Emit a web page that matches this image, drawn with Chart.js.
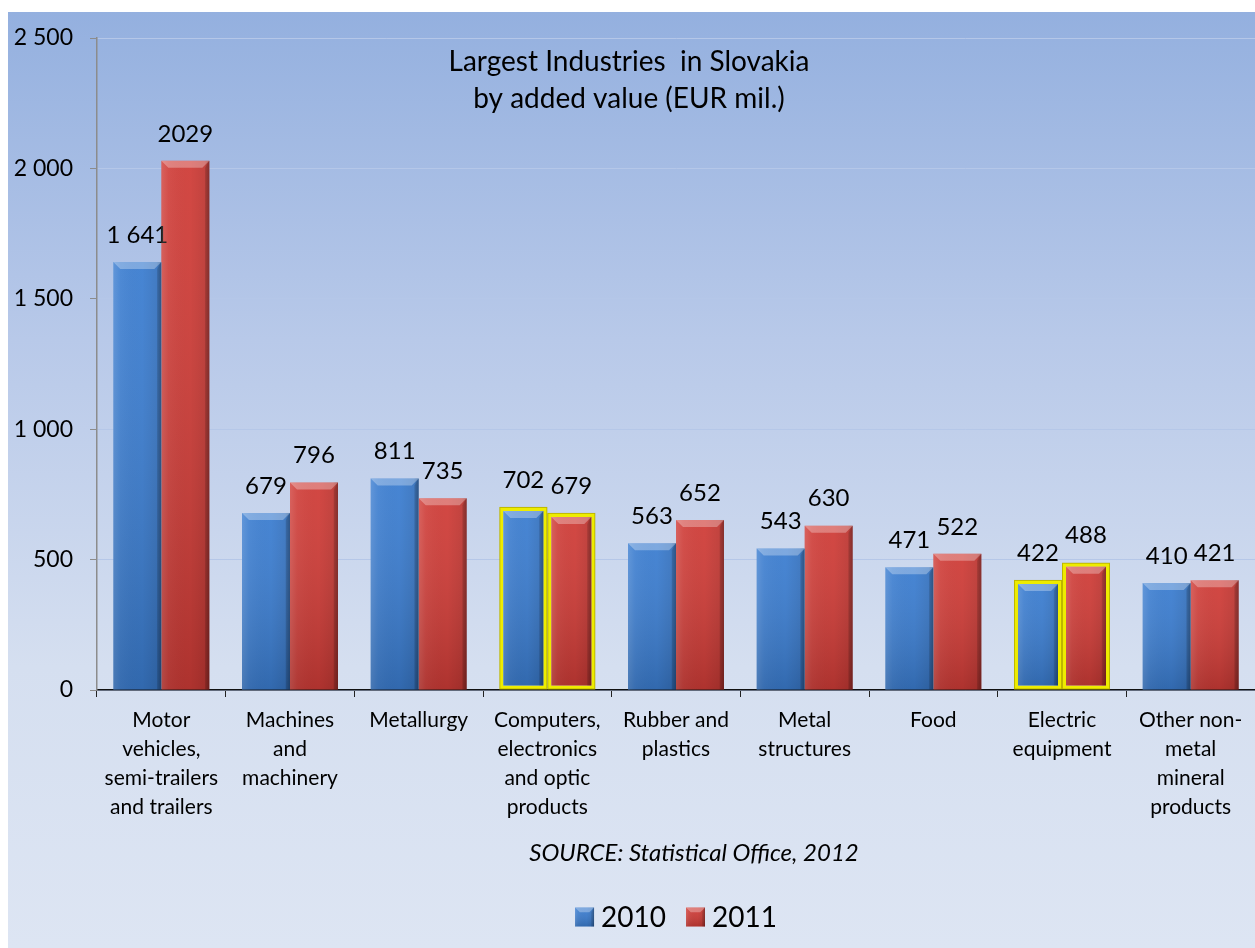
<!DOCTYPE html>
<html>
<head>
<meta charset="utf-8">
<script src="https://cdn.jsdelivr.net/npm/chart.js@4.4.0/dist/chart.umd.min.js"></script>
<style>
  body { margin: 0; background: #fff; }
  #wrap { width: 1255px; height: 948px; }
</style>
</head>
<body>
<div id="wrap"><canvas id="chart"></canvas></div>
<script>
const categories = [
  ['Motor', 'vehicles,', 'semi-trailers', 'and trailers'],
  ['Machines', 'and', 'machinery'],
  ['Metallurgy'],
  ['Computers,', 'electronics', 'and optic', 'products'],
  ['Rubber and', 'plastics'],
  ['Metal', 'structures'],
  ['Food'],
  ['Electric', 'equipment'],
  ['Other non-', 'metal', 'mineral', 'products']
];
const values2010 = [1641, 679, 811, 702, 563, 543, 471, 422, 410];
const values2011 = [2029, 796, 735, 679, 652, 630, 522, 488, 421];
const seriesNames = ['2010', '2011'];
const highlighted = [3, 7];   // categories framed in yellow
const titleLines = ['Largest Industries  in Slovakia', 'by added value (EUR mil.)'];
const sourceText = 'SOURCE: Statistical Office, 2012';

const FONT = 'Lato, "Open Sans", sans-serif';
const BLUE = '#3b7dd0';
const RED = '#cf3c37';
const YELLOW = '#eeec00';
const FRAME_W = 4;

// "1641" -> "1 641"
function spaced(v) {
  return String(v).replace(/\B(?=(\d{3})+(?!\d))/g, ' ');
}

function frame(list) {
  return categories.map((c, i) => highlighted.includes(i) ? list[0] : list[1]);
}

// bevelled "3D" look drawn over a bar rectangle
function bevel(ctx, l, t, r, b) {
  const w = r - l, h = b - t;
  if (w <= 0 || h <= 0) return;
  const bv = Math.min(7, w / 4, h / 2);
  ctx.save();
  let g = ctx.createLinearGradient(l, 0, r, 0);
  g.addColorStop(0, 'rgba(255,255,255,0.14)');
  g.addColorStop(0.15, 'rgba(255,255,255,0.04)');
  g.addColorStop(0.6, 'rgba(0,0,0,0)');
  g.addColorStop(0.9, 'rgba(0,0,0,0.08)');
  g.addColorStop(1, 'rgba(0,0,0,0.3)');
  ctx.fillStyle = g;
  ctx.fillRect(l, t, w, h);
  g = ctx.createLinearGradient(0, t, 0, b);
  g.addColorStop(0, 'rgba(255,255,255,0.06)');
  g.addColorStop(1, 'rgba(0,0,0,0.16)');
  ctx.fillStyle = g;
  ctx.fillRect(l, t, w, h);
  // top face
  ctx.beginPath();
  ctx.moveTo(l, t); ctx.lineTo(r, t); ctx.lineTo(r - bv, t + bv); ctx.lineTo(l + bv, t + bv);
  ctx.closePath();
  ctx.fillStyle = 'rgba(255,255,255,0.3)';
  ctx.fill();
  // right edge
  ctx.beginPath();
  ctx.moveTo(r, t); ctx.lineTo(r, b); ctx.lineTo(r - bv * 0.6, b); ctx.lineTo(r - bv * 0.6, t + bv);
  ctx.closePath();
  ctx.fillStyle = 'rgba(0,0,0,0.12)';
  ctx.fill();
  ctx.restore();
}

const decorPlugin = {
  id: 'decor',
  beforeDraw(chart) {
    const { ctx, width, height } = chart;
    ctx.save();
    ctx.fillStyle = '#ffffff';
    ctx.fillRect(0, 0, width, height);
    const g = ctx.createLinearGradient(0, 12, 0, height);
    g.addColorStop(0, '#94b0df');
    g.addColorStop(0.35, '#b8c9e9');
    g.addColorStop(0.7, '#d5dff0');
    g.addColorStop(1, '#dde5f3');
    ctx.fillStyle = g;
    ctx.fillRect(8, 12, width - 8, height - 12);
    ctx.restore();
  },
  afterDatasetsDraw(chart) {
    const ctx = chart.ctx;
    chart.data.datasets.forEach((ds, di) => {
      const meta = chart.getDatasetMeta(di);
      meta.data.forEach((el, i) => {
        const p = el.getProps(['x', 'y', 'base', 'width'], true);
        const l = p.x - p.width / 2, r = p.x + p.width / 2;
        if (highlighted.includes(i)) {
          const inset = FRAME_W;
          bevel(ctx, l + inset, p.y + inset, r - inset, p.base - inset);
          ctx.save();
          ctx.strokeStyle = 'rgba(150,140,0,0.55)';
          ctx.lineWidth = 1;
          ctx.strokeRect(l + 0.5, p.y + 0.5, p.width - 1, p.base - p.y - 1);
          ctx.restore();
        } else {
          bevel(ctx, l, p.y, r, p.base);
        }
        // value label
        ctx.save();
        ctx.fillStyle = '#000';
        ctx.font = '24px ' + FONT;
        ctx.textAlign = 'center';
        ctx.textBaseline = 'middle';
        const txt = di === 0 ? spaced(ds.data[i]) : String(ds.data[i]);
        ctx.fillText(txt, p.x, p.y - 27);
        ctx.restore();
      });
    });
  },
  afterDraw(chart) {
    const { ctx, chartArea } = chart;
    ctx.save();
    ctx.fillStyle = '#000';
    ctx.textAlign = 'center';
    ctx.textBaseline = 'middle';
    ctx.font = '28px ' + FONT;
    ctx.fillText(titleLines[0], 629, 62);
    ctx.fillText(titleLines[1], 629, 99);
    ctx.font = 'italic 24px ' + FONT;
    ctx.fillText(sourceText, 694, 853);

    // legend
    ctx.font = '28px ' + FONT;
    const box = 19, gapText = 7, gapItem = 20;
    const widths = seriesNames.map(s => ctx.measureText(s).width);
    const total = widths.reduce((a, w) => a + box + gapText + w, 0) + gapItem * (seriesNames.length - 1);
    let x = (chartArea.left + chartArea.right) / 2 - total / 2;
    const y = 917;
    ctx.textAlign = 'left';
    seriesNames.forEach((s, i) => {
      ctx.fillStyle = chart.data.datasets[i].backgroundColor;
      ctx.fillRect(x, y - box / 2, box, box);
      bevel(ctx, x, y - box / 2, x + box, y + box / 2);
      ctx.fillStyle = '#000';
      ctx.fillText(s, x + box + gapText, y + 1);
      x += box + gapText + widths[i] + gapItem;
    });
    ctx.restore();
  }
};

new Chart('chart', {
  type: 'bar',
  data: {
    labels: categories,
    datasets: [{
      label: seriesNames[0],
      data: values2010,
      backgroundColor: BLUE,
      borderColor: frame([YELLOW, BLUE]),
      borderWidth: frame([FRAME_W, 0]),
      borderSkipped: false,
      categoryPercentage: 0.746,
      barPercentage: 1
    }, {
      label: seriesNames[1],
      data: values2011,
      backgroundColor: RED,
      borderColor: frame([YELLOW, RED]),
      borderWidth: frame([FRAME_W, 0]),
      borderSkipped: false,
      categoryPercentage: 0.746,
      barPercentage: 1
    }]
  },
  options: {
    responsive: true,
    maintainAspectRatio: false,
    animation: false,
    layout: { padding: { top: 38, left: 0, right: 0, bottom: 0 } },
    plugins: {
      legend: { display: false },
      title: { display: false },
      tooltip: { enabled: false }
    },
    scales: {
      x: {
        grid: { offset: true, drawOnChartArea: false, tickLength: 7, tickColor: '#222' },
        border: { color: '#111', width: 1.5 },
        ticks: {
          color: '#000',
          font: { family: FONT, size: 21, lineHeight: 1.38 },
          padding: 9,
          maxRotation: 0,
          autoSkip: false
        },
        afterFit(s) { s.height = 258; }
      },
      y: {
        min: 0,
        max: 2500,
        grid: { color: '#b5c7e8', tickColor: '#8c8c8c', tickLength: 7 },
        border: { color: '#8c8c8c', width: 1.5 },
        ticks: {
          stepSize: 500,
          color: '#000',
          padding: 17,
          font: { family: FONT, size: 23 },
          callback: v => spaced(v)
        },
        afterFit(s) { s.width = 97; }
      }
    }
  },
  plugins: [decorPlugin]
});
</script>
</body>
</html>
